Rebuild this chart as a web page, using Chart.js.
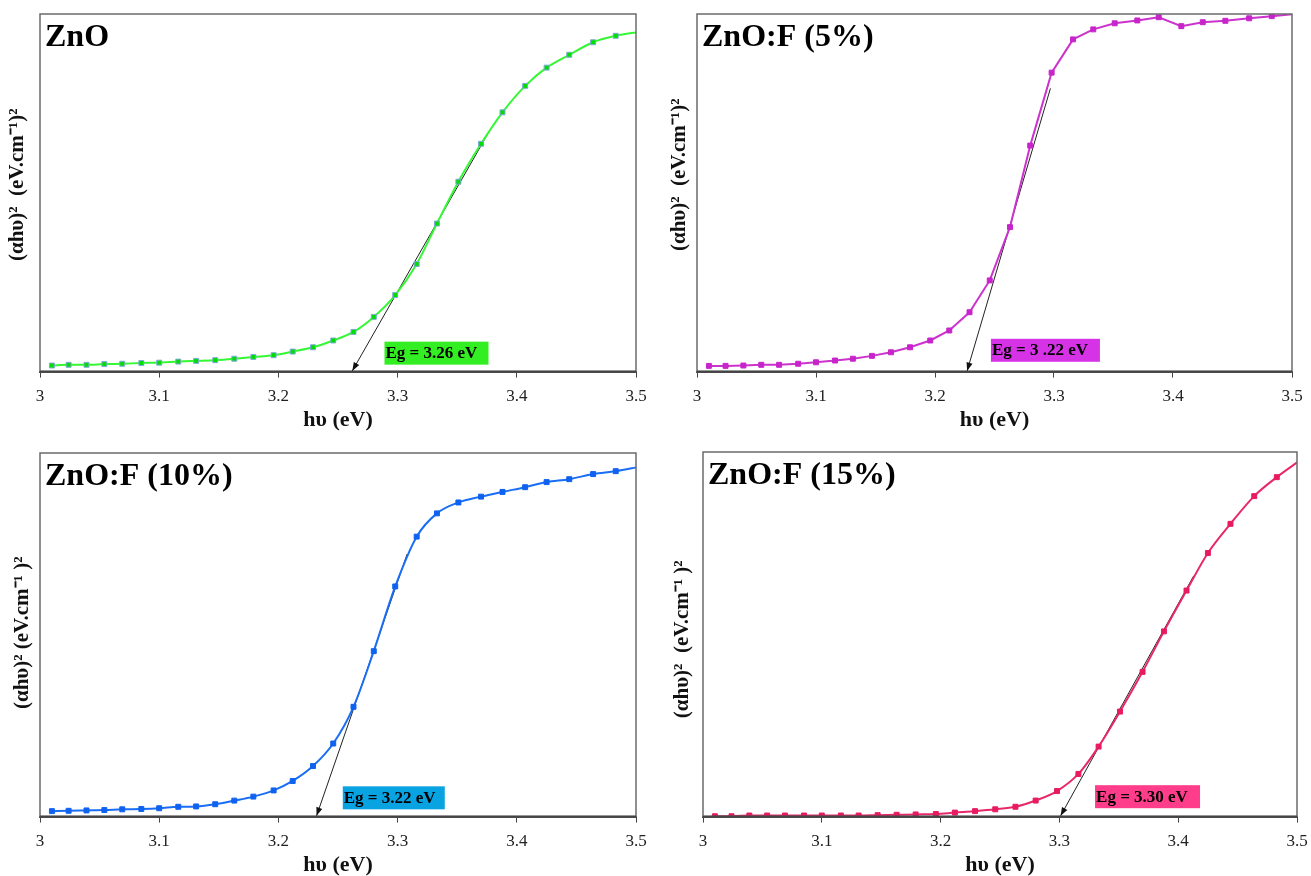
<!DOCTYPE html>
<html>
<head>
<meta charset="utf-8">
<script src="https://cdn.jsdelivr.net/npm/chart.js@4.4.0/dist/chart.umd.min.js"></script>
<style>
  html, body { margin: 0; padding: 0; background: #fff; }
  #wrap { position: relative; width: 1311px; height: 876px; }
  canvas { position: absolute; }
</style>
</head>
<body>
<div id="wrap">
  <canvas id="c1" width="655" height="435" style="left:0;top:0"></canvas>
  <canvas id="c2" width="656" height="435" style="left:655px;top:0"></canvas>
  <canvas id="c3" width="655" height="441" style="left:0;top:435px"></canvas>
  <canvas id="c4" width="656" height="441" style="left:655px;top:435px"></canvas>
</div>
<script>
// photon energy (eV), one point every 2 nm from 412 nm down to 354 nm
var hv = [3.010, 3.024, 3.039, 3.054, 3.069, 3.085, 3.100, 3.116, 3.131, 3.147,
          3.163, 3.179, 3.196, 3.212, 3.229, 3.246, 3.263, 3.280, 3.298, 3.316,
          3.333, 3.351, 3.370, 3.388, 3.407, 3.425, 3.444, 3.464, 3.483, 3.503];

// (alpha h nu)^2, arbitrary units (0-100 of the plot height)
var zno = [1.7, 1.9, 1.9, 2.1, 2.2, 2.4, 2.5, 2.8, 3.0, 3.2,
           3.6, 4.1, 4.6, 5.6, 6.8, 8.7, 11.1, 15.3, 21.4, 30.1,
           41.4, 53.1, 63.7, 72.5, 79.9, 85.0, 88.6, 92.1, 93.9, 95.0];
var znoF5 = [1.6, 1.6, 1.7, 1.9, 1.9, 2.2, 2.6, 3.1, 3.6, 4.4,
             5.4, 6.8, 8.7, 11.5, 16.6, 25.5, 40.4, 63.2, 83.6, 92.9,
             95.7, 97.4, 98.2, 99.1, 96.6, 97.7, 98.1, 98.8, 99.4, 100.0];
var znoF10 = [1.5, 1.6, 1.7, 1.8, 2.0, 2.1, 2.3, 2.7, 2.8, 3.4,
              4.4, 5.5, 7.2, 9.8, 13.9, 20.1, 30.2, 45.5, 63.3, 77.0,
              83.4, 86.4, 88.0, 89.3, 90.6, 92.0, 92.8, 94.2, 95.0, 96.2];
var znoF15 = [0.1, 0.1, 0.3, 0.3, 0.3, 0.3, 0.3, 0.3, 0.3, 0.4,
              0.5, 0.6, 0.7, 1.1, 1.5, 2.0, 2.7, 4.4, 7.0, 11.7,
              19.2, 28.8, 39.7, 50.8, 62.0, 72.3, 80.3, 87.9, 93.1, 97.8];

// tangent (Tauc extrapolation) lines: start point, end point on the axis
var tangentZno = [{ x: 3.376, y: 66.7 }, { x: 3.262, y: 0.2 }];
var tangentF5 = [{ x: 3.297, y: 79.2 }, { x: 3.227, y: 0.2 }];
var tangentF10 = [{ x: 3.308, y: 72.2 }, { x: 3.232, y: 0.2 }];
var tangentF15 = [{ x: 3.413, y: 66.0 }, { x: 3.301, y: 0.2 }];

var xTicks = [3, 3.1, 3.2, 3.3, 3.4, 3.5];
var panelTitles = ['ZnO', 'ZnO:F (5%)', 'ZnO:F (10%)', 'ZnO:F (15%)'];
var gapLabels = ['Eg = 3.26 eV', 'Eg = 3 .22 eV', 'Eg = 3.22 eV', 'Eg = 3.30 eV'];
var gapLabelX = [3.289, 3.247, 3.254, 3.330];
var gapLabelY = [5.3, 6.1, 5.3, 5.6];
var xTitle = 'hυ (eV)';

var SERIF = "'Liberation Serif', 'Times New Roman', serif";

var panelDecor = {
  id: 'panelDecor',
  afterDatasetsDraw: function (chart, args, opts) {
    var ctx = chart.ctx;
    var a = chart.chartArea;
    var xs = chart.scales.x, ys = chart.scales.y;
    ctx.save();

    // box round the plot
    ctx.strokeStyle = '#6b6b6b';
    ctx.lineWidth = 1.5;
    ctx.strokeRect(a.left, a.top, a.right - a.left, a.bottom - a.top);
    ctx.strokeStyle = '#444';
    ctx.lineWidth = 2;
    ctx.beginPath();
    ctx.moveTo(a.left, a.bottom);
    ctx.lineTo(a.right, a.bottom);
    ctx.stroke();

    // arrow head at the end of the tangent
    var pts = chart.getDatasetMeta(1).data;
    var p0 = pts[0], p1 = pts[pts.length - 1];
    var ang = Math.atan2(p1.y - p0.y, p1.x - p0.x);
    ctx.fillStyle = '#111';
    ctx.beginPath();
    ctx.moveTo(p1.x, p1.y);
    ctx.lineTo(p1.x - 9 * Math.cos(ang - 0.35), p1.y - 9 * Math.sin(ang - 0.35));
    ctx.lineTo(p1.x - 9 * Math.cos(ang + 0.35), p1.y - 9 * Math.sin(ang + 0.35));
    ctx.closePath();
    ctx.fill();

    // band gap label
    var bx = xs.getPixelForValue(opts.labelX);
    var by = ys.getPixelForValue(opts.labelY);
    ctx.fillStyle = opts.labelColor;
    ctx.fillRect(bx, by - 11, opts.labelWidth, 23);
    ctx.fillStyle = '#000';
    ctx.font = 'bold 17px ' + SERIF;
    ctx.textBaseline = 'middle';
    ctx.textAlign = 'left';
    ctx.fillText(opts.label, bx + 1, by + 1);

    // panel title
    ctx.font = 'bold 32px ' + SERIF;
    ctx.textBaseline = 'alphabetic';
    ctx.fillText(opts.title, a.left + 5, a.top + 32);

    // axis titles
    ctx.fillStyle = '#111';
    ctx.font = 'bold 22px ' + SERIF;
    ctx.textAlign = 'center';
    ctx.textBaseline = 'middle';
    ctx.fillText(xTitle, (a.left + a.right) / 2, a.bottom + 49);

    ctx.translate(opts.yTitleX, (a.top + a.bottom) / 2 + opts.yTitleDy);
    ctx.rotate(-Math.PI / 2);
    ctx.font = 'bold 21px ' + SERIF;
    ctx.fillText(opts.yTitle, 0, 0);
    ctx.restore();
  }
};

function makePanel(id, p) {
  var last = hv.length - 1;
  return new Chart(document.getElementById(id), {
    type: 'line',
    data: {
      datasets: [{
        data: p.values.map(function (v, i) { return { x: hv[i], y: v }; }),
        borderColor: p.color,
        borderWidth: 2,
        backgroundColor: p.marker,
        pointBackgroundColor: p.marker,
        pointBorderColor: p.markerEdge,
        pointBorderWidth: 1,
        pointStyle: 'rect',
        pointRadius: function (c) { return c.dataIndex === last ? 0 : 3.5; },
        cubicInterpolationMode: p.smooth ? 'monotone' : 'default',
        tension: 0,
        clip: 0
      }, {
        data: p.tangent,
        borderColor: '#222',
        borderWidth: 1,
        pointRadius: 0,
        tension: 0
      }]
    },
    options: {
      responsive: false,
      animation: false,
      layout: { padding: p.pad },
      plugins: {
        legend: { display: false },
        tooltip: { enabled: false },
        panelDecor: {
          title: p.title,
          label: p.label,
          labelX: p.labelX,
          labelY: p.labelY,
          labelColor: p.labelColor,
          labelWidth: p.labelWidth,
          yTitle: p.yTitle,
          yTitleX: p.yTitleX,
          yTitleDy: p.yTitleDy
        }
      },
      scales: {
        x: {
          type: 'linear',
          min: 3,
          max: 3.5,
          afterBuildTicks: function (axis) {
            axis.ticks = xTicks.map(function (v) { return { value: v }; });
          },
          afterFit: function (axis) {
            axis.paddingRight = 0;
            axis.paddingLeft = 0;
          },
          ticks: {
            callback: function (v) { return String(Number(v.toFixed(1))); },
            font: { family: SERIF, size: 17 },
            color: '#222',
            padding: 9,
            maxRotation: 0
          },
          grid: { display: true, drawOnChartArea: false, drawTicks: true, tickLength: 6, color: '#444' },
          border: { display: true, color: '#444', width: 2 }
        },
        y: {
          display: false,
          min: 0,
          max: 100
        }
      }
    },
    plugins: [panelDecor]
  });
}

document.addEventListener('DOMContentLoaded', function () {
  makePanel('c1', {
    values: zno, tangent: tangentZno, smooth: true,
    color: '#33f833', marker: '#00dd00', markerEdge: '#7fa9d9',
    title: panelTitles[0], label: gapLabels[0], labelX: gapLabelX[0], labelY: gapLabelY[0],
    labelColor: '#33ee22', labelWidth: 104,
    yTitle: '(αhυ)²  (eV.cm⁻¹)²', yTitleX: 18, yTitleDy: -8,
    pad: { left: 40, top: 14, right: 19, bottom: 19 }
  });
  makePanel('c2', {
    values: znoF5, tangent: tangentF5, smooth: false,
    color: '#cc33cc', marker: '#c824cc', markerEdge: '#c824cc',
    title: panelTitles[1], label: gapLabels[1], labelX: gapLabelX[1], labelY: gapLabelY[1],
    labelColor: '#d633e6', labelWidth: 109,
    yTitle: '(αhυ)²  (eV.cm⁻¹)²', yTitleX: 25, yTitleDy: -18,
    pad: { left: 42, top: 14, right: 19, bottom: 19 }
  });
  makePanel('c3', {
    values: znoF10, tangent: tangentF10, smooth: true,
    color: '#1a6ef5', marker: '#0f62f0', markerEdge: '#0f62f0',
    title: panelTitles[2], label: gapLabels[2], labelX: gapLabelX[2], labelY: gapLabelY[2],
    labelColor: '#0aa3e2', labelWidth: 102,
    yTitle: '(αhυ)² (eV.cm⁻¹ )²', yTitleX: 23, yTitleDy: -2,
    pad: { left: 40, top: 18, right: 19, bottom: 15 }
  });
  makePanel('c4', {
    values: znoF15, tangent: tangentF15, smooth: true,
    color: '#e8286b', marker: '#e81a62', markerEdge: '#e81a62',
    title: panelTitles[3], label: gapLabels[3], labelX: gapLabelX[3], labelY: gapLabelY[3],
    labelColor: '#ff3d8a', labelWidth: 105,
    yTitle: '(αhυ)²  (eV.cm⁻¹ )²', yTitleX: 28, yTitleDy: 5,
    pad: { left: 48, top: 17, right: 14, bottom: 15 }
  });
});
</script>
</body>
</html>
